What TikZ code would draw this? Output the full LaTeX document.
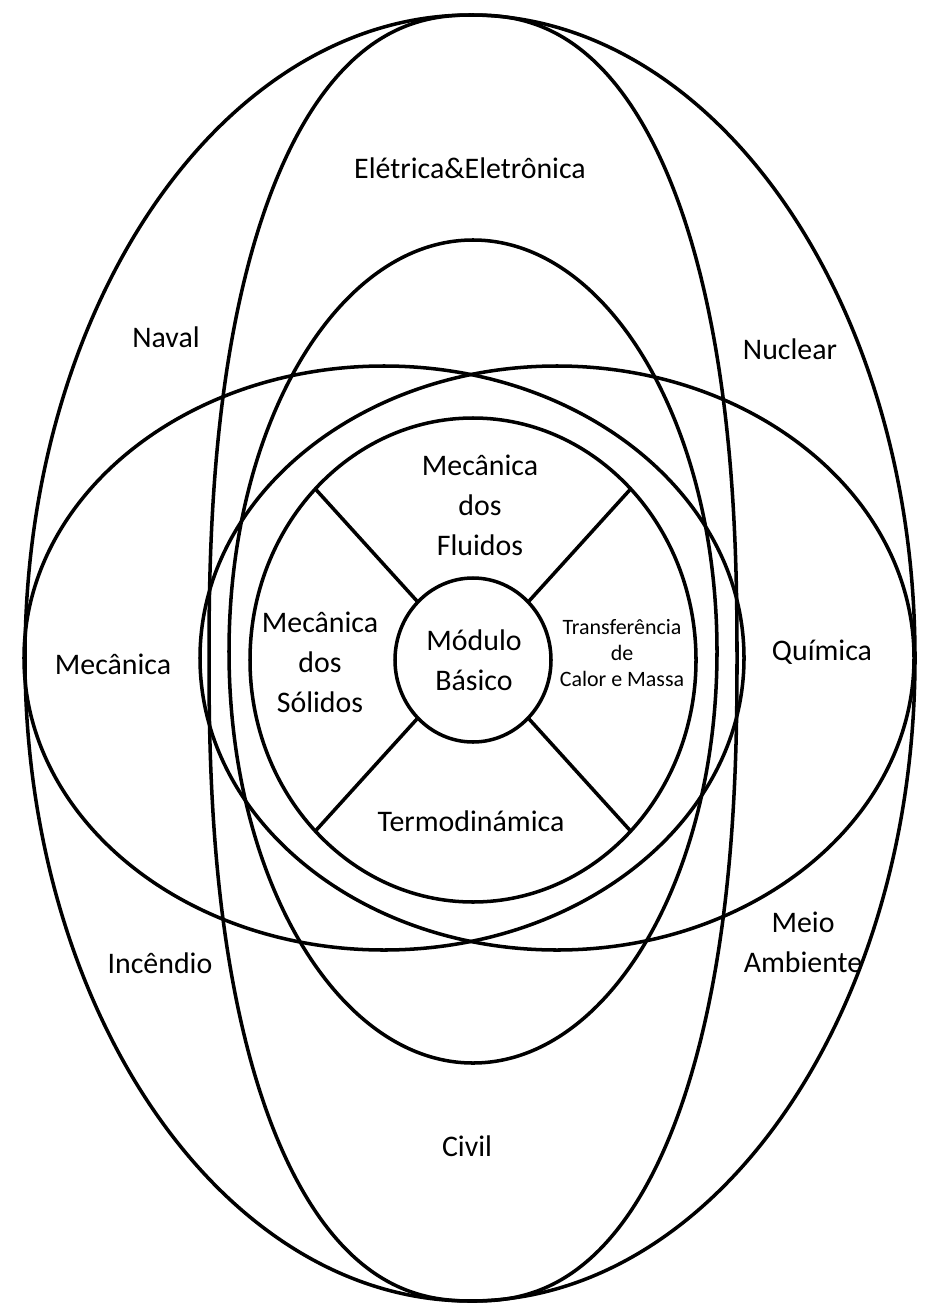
\documentclass[tikz,border=0pt]{standalone}
\usepackage{fontspec}
\setmainfont{Carlito}
\usetikzlibrary{calc}
\begin{document}
\begin{tikzpicture}[x=0.02cm,y=-0.02cm, line width=2pt,
  lab/.style={font=\fontsize{17}{22.8}\selectfont, align=center, inner sep=0pt},
  smalllab/.style={font=\fontsize{12.5}{15}\selectfont, align=center, inner sep=0pt}]
\useasboundingbox[fill=white] (0,0) rectangle (925,1307);
% outer tall ellipse
\draw (470,658) ellipse [x radius=445, y radius=643];
% tall narrow (superelliptic) shape
\draw plot[smooth cycle, domain=1:359, samples=180]
  ({473+264*cos(\x)*pow(abs(cos(\x)),-0.149)}, {658+643*sin(\x)*pow(abs(sin(\x)),-0.149)});
% horizontal ellipses
\draw (384,658) ellipse [x radius=360, y radius=292];
\draw (557,658) ellipse [x radius=357, y radius=292];
% middle vertical ellipse
\draw (473,651.5) ellipse [x radius=244, y radius=411.5];
% ring with spokes
\coordinate (c) at (473,660);
\draw (c) ellipse [x radius=223, y radius=242];
\draw (c) ellipse [x radius=78, y radius=82];
\foreach \a in {45,135,225,315}
  \draw (c) ++(\a:78 and 82) -- ++(\a:145 and 160);
% labels
\node[lab] (ele) at (470,168) {Elétrica\&Eletrônica};
\node[lab] (naval) at (166,337) {Naval};
\node[lab] (nuc) at (790,349) {Nuclear};
\node[lab] (mec) at (113,664) {Mecânica};
\node[lab] (qui) at (822,652) {Química};
\node[lab] (inc) at (160,963) {Incêndio};
\node[lab] (meio) at (803,942) {Meio\\Ambiente};
\node[lab] (civ) at (467,1146) {Civil};
\node[lab] (flu) at (480,505) {Mecânica\\dos\\Fluidos};
\node[lab] (sol) at (320,662) {Mecânica\\dos\\Sólidos};
\node[lab] (mod) at (474,660) {Módulo\\Básico};
\node[smalllab] (tcm) at (622,653) {Transferência\\de\\Calor e Massa};
\node[lab] (ter) at (471,821) {Termodinámica};
\end{tikzpicture}
\end{document}
